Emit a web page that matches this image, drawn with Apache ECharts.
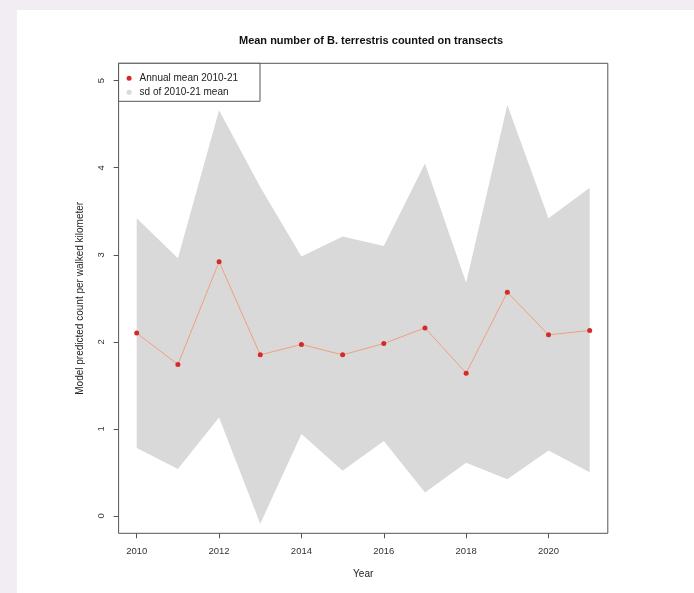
<!DOCTYPE html>
<html>
<head>
<meta charset="utf-8">
<script src="https://cdn.jsdelivr.net/npm/echarts@6/dist/echarts.min.js"></script>
<style>
  html, body { margin: 0; padding: 0; background: #f2edf3; }
  #paper { position: absolute; left: 17px; top: 10px; right: 0; bottom: 0; background: #ffffff; }
  #chart { position: absolute; left: 0; top: 0; width: 694px; height: 593px; }
</style>
</head>
<body>
<div id="paper"></div>
<div id="chart"></div>
<script>
// Survey years and the annual mean count of B. terrestris per walked kilometre
const years = [2010, 2011, 2012, 2013, 2014, 2015, 2016, 2017, 2018, 2019, 2020, 2021];
const meanCount = [2.10, 1.74, 2.92, 1.85, 1.97, 1.85, 1.98, 2.16, 1.64, 2.57, 2.08, 2.13];
// Band limits: mean plus / minus one standard deviation
const sdUpper = [3.42, 2.96, 4.66, 3.78, 2.98, 3.21, 3.10, 4.05, 2.68, 4.72, 3.42, 3.77];
const sdLower = [0.78, 0.54, 1.13, -0.09, 0.94, 0.52, 0.86, 0.27, 0.61, 0.42, 0.75, 0.50];
// Tick positions
const xTicks = [2010, 2012, 2014, 2016, 2018, 2020];
const yTicks = [0, 1, 2, 3, 4, 5];

const FONT = 'Liberation Sans, Arial, Helvetica, sans-serif';
const chart = echarts.init(document.getElementById('chart'), null, { renderer: 'canvas' });

chart.setOption({
  animation: false,
  backgroundColor: 'transparent',
  graphic: [{
    type: 'text',
    x: 371, y: 41,
    style: {
      text: 'Mean number of B. terrestris counted on transects',
      font: 'bold 11px ' + FONT,
      fill: '#111',
      textAlign: 'center',
      textVerticalAlign: 'middle'
    }
  }],
  legend: {
    left: 118.6, top: 63.3,
    orient: 'vertical',
    backgroundColor: '#fff',
    borderColor: '#555', borderWidth: 1,
    padding: [9, 22, 3, 8],
    itemWidth: 5, itemHeight: 5, itemGap: 2,
    textStyle: { fontFamily: FONT, fontSize: 10, color: '#222', lineHeight: 12, padding: [0, 0, 0, 3] },
    data: [
      { name: 'Annual mean 2010-21', icon: 'circle' },
      { name: 'sd of 2010-21 mean', icon: 'circle' }
    ]
  },
  grid: {
    left: 118.6, right: 86.2, top: 63.3, bottom: 59.7,
    show: true, borderColor: '#555', borderWidth: 1, backgroundColor: 'transparent'
  },
  xAxis: {
    type: 'value',
    min: 2009.56, max: 2021.44,
    name: 'Year', nameLocation: 'middle', nameGap: 36,
    nameTextStyle: { fontFamily: FONT, fontSize: 10, color: '#222' },
    axisLine: { show: false, onZero: false },
    splitLine: { show: false },
    axisTick: { show: true, length: 5, lineStyle: { color: '#555' }, customValues: xTicks },
    axisLabel: {
      customValues: xTicks, margin: 13,
      fontFamily: FONT, fontSize: 9.5, color: '#333',
      formatter: v => String(v)
    }
  },
  yAxis: {
    type: 'value',
    min: -0.2, max: 5.2,
    name: 'Model predicted count per walked kilometer', nameLocation: 'middle', nameGap: 33,
    nameTextStyle: { fontFamily: FONT, fontSize: 10, color: '#222' },
    axisLine: { show: false, onZero: false },
    splitLine: { show: false },
    axisTick: { show: true, length: 5, lineStyle: { color: '#555' }, customValues: yTicks },
    axisLabel: {
      customValues: yTicks, margin: 12, rotate: 90,
      fontFamily: FONT, fontSize: 9.5, color: '#333',
      formatter: v => String(v)
    }
  },
  series: [
    {
      name: 'sd of 2010-21 mean',
      type: 'custom',
      z: 1,
      itemStyle: { color: '#d9d9d9' },
      encode: { x: 0, y: [1, 2] },
      data: years.map((yr, i) => [yr, sdLower[i], sdUpper[i]]),
      renderItem: function (params, api) {
        if (params.dataIndex !== 0) return null;
        const top = years.map((yr, i) => api.coord([yr, sdUpper[i]]));
        const bottom = years.map((yr, i) => api.coord([yr, sdLower[i]])).reverse();
        return {
          type: 'polygon',
          shape: { points: top.concat(bottom) },
          style: { fill: '#d9d9d9' }
        };
      }
    },
    {
      name: 'Annual mean 2010-21',
      type: 'line',
      z: 3,
      data: years.map((yr, i) => [yr, meanCount[i]]),
      symbol: 'circle', symbolSize: 5,
      itemStyle: { color: '#d42a2a' },
      lineStyle: { color: '#f0a080', width: 1 }
    }
  ]
});
</script>
</body>
</html>
